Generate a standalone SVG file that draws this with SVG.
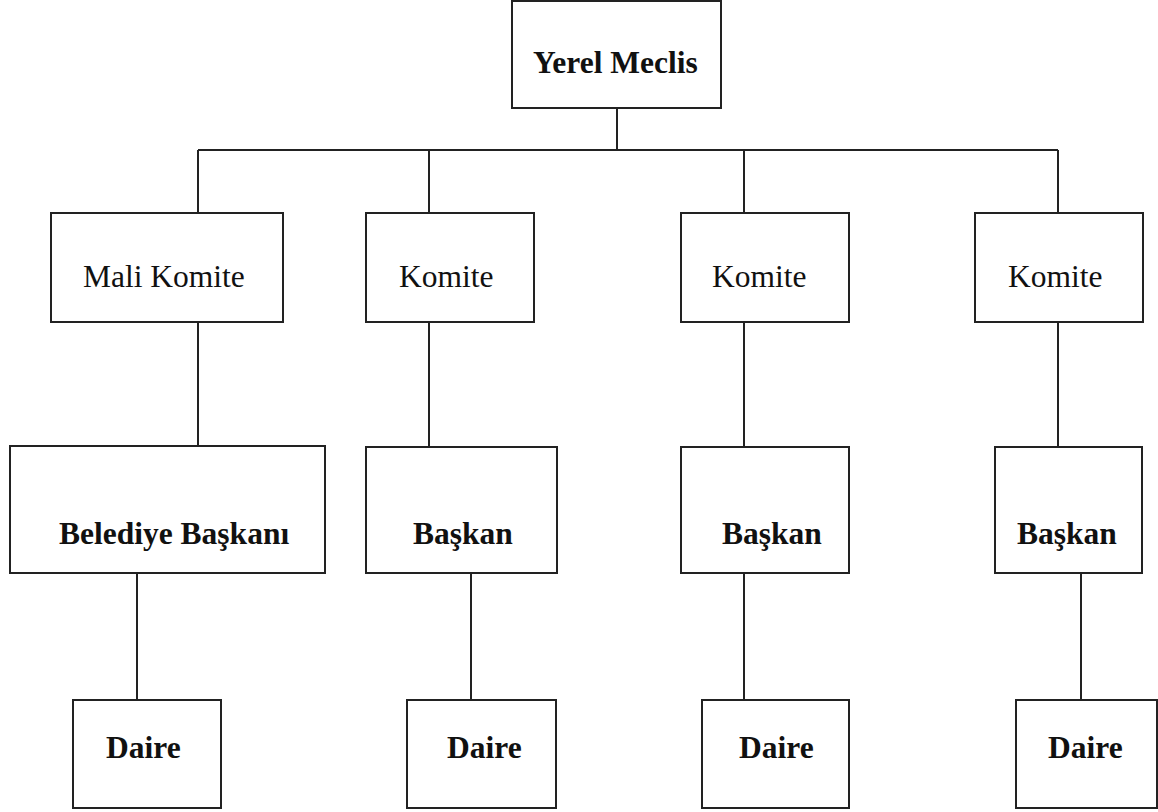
<svg xmlns="http://www.w3.org/2000/svg" width="1158" height="812" viewBox="0 0 1158 812">
  <style>
    .box { fill: #ffffff; stroke: #222222; stroke-width: 2; }
    .link { fill: none; stroke: #222222; stroke-width: 2; }
    .lbl { font-family: "Liberation Serif", "Times New Roman", serif; font-size: 31.5px; fill: #111111; }
    .b { font-weight: bold; }
  </style>
  <rect width="1158" height="812" fill="#ffffff"/>

  <!-- connectors -->
  <g id="connectors" class="link">
    <path d="M617 108 V150"/>
    <path d="M198 150 H1058"/>
    <path d="M198 150 V213 M429 150 V213 M744 150 V213 M1058 150 V213"/>
    <path d="M198 322 V446 M429 322 V447 M744 322 V447 M1058 322 V447"/>
    <path d="M137 573 V700 M471 573 V700 M744 573 V700 M1081 573 V700"/>
  </g>

  <!-- top level -->
  <g id="yerel-meclis">
    <rect class="box" x="512" y="1" width="209" height="107"/>
    <text class="lbl b" x="533" y="73">Yerel Meclis</text>
  </g>

  <!-- committees -->
  <g id="mali-komite">
    <rect class="box" x="51" y="213" width="232" height="109"/>
    <text class="lbl" x="83" y="287">Mali Komite</text>
  </g>
  <g id="komite-2">
    <rect class="box" x="366" y="213" width="168" height="109"/>
    <text class="lbl" x="399" y="287">Komite</text>
  </g>
  <g id="komite-3">
    <rect class="box" x="681" y="213" width="168" height="109"/>
    <text class="lbl" x="712" y="287">Komite</text>
  </g>
  <g id="komite-4">
    <rect class="box" x="975" y="213" width="168" height="109"/>
    <text class="lbl" x="1008" y="287">Komite</text>
  </g>

  <!-- heads -->
  <g id="belediye-baskani">
    <rect class="box" x="10" y="446" width="315" height="127"/>
    <text class="lbl b" x="59" y="544">Belediye Başkanı</text>
  </g>
  <g id="baskan-2">
    <rect class="box" x="366" y="447" width="191" height="126"/>
    <text class="lbl b" x="413" y="544">Başkan</text>
  </g>
  <g id="baskan-3">
    <rect class="box" x="681" y="447" width="168" height="126"/>
    <text class="lbl b" x="722" y="544">Başkan</text>
  </g>
  <g id="baskan-4">
    <rect class="box" x="995" y="447" width="147" height="126"/>
    <text class="lbl b" x="1017" y="544">Başkan</text>
  </g>

  <!-- departments -->
  <g id="daire-1">
    <rect class="box" x="73" y="700" width="148" height="108"/>
    <text class="lbl b" x="106" y="758">Daire</text>
  </g>
  <g id="daire-2">
    <rect class="box" x="407" y="700" width="149" height="108"/>
    <text class="lbl b" x="447" y="758">Daire</text>
  </g>
  <g id="daire-3">
    <rect class="box" x="702" y="700" width="147" height="108"/>
    <text class="lbl b" x="739" y="758">Daire</text>
  </g>
  <g id="daire-4">
    <rect class="box" x="1016" y="700" width="141" height="108"/>
    <text class="lbl b" x="1048" y="758">Daire</text>
  </g>
</svg>
